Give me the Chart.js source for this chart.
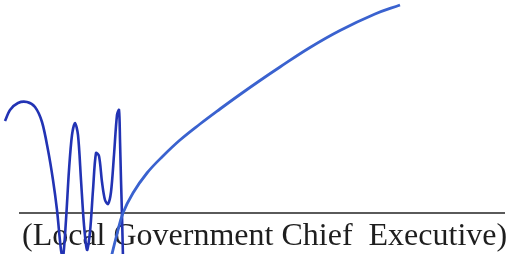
<!DOCTYPE html>
<html>
<head>
<meta charset="utf-8">
<script src="https://cdn.jsdelivr.net/npm/chart.js@4"></script>
<style>
  html, body { margin: 0; padding: 0; background: #fff; }
  #wrap { width: 507px; height: 254px; }
</style>
</head>
<body>
<div id="wrap"><canvas id="c" width="507" height="254"></canvas></div>
<script>
// Signature stroke 1 (the "W" part), in picture coordinates
const strokeWX = [5, 10, 18, 27, 35, 42, 48, 53, 57, 61, 63, 66, 69, 72, 75, 78, 81, 84, 87, 90, 93, 96, 99, 102, 105, 108, 111, 114, 117, 119, 120, 121, 122, 123];
const strokeWY = [121, 110, 103, 102, 107, 122, 150, 180, 210, 250, 258, 220, 170, 135, 123, 135, 180, 225, 250, 232, 190, 153, 156, 182, 200, 204, 192, 155, 115, 110, 140, 180, 215, 258];
// Signature stroke 2 (the long sweep)
const sweepX = [111, 117, 123, 133, 147, 163, 180, 200, 220, 240, 260, 280, 310, 340, 375, 400];
const sweepY = [258, 234, 213, 193, 173, 156, 140, 124, 109, 94.5, 80.5, 67, 47.5, 30.5, 14, 5];
// Signature rule line
const ruleX = [19, 505];
const ruleY = [213, 213];
const caption = "(Local Government Chief  Executive)";

const toPts = (xs, ys) => xs.map((x, i) => ({ x: x, y: ys[i] }));

const captionPlugin = {
  id: 'caption',
  beforeDatasetsDraw(chart) {
    const ctx = chart.ctx;
    ctx.save();
    ctx.font = '32px "Liberation Serif", "Times New Roman", serif';
    ctx.fillStyle = '#1e1e1e';
    ctx.textBaseline = 'alphabetic';
    ctx.textAlign = 'left';
    const xs = chart.scales.x, ys = chart.scales.y;
    ctx.fillText(caption, xs.getPixelForValue(22), ys.getPixelForValue(245));
    ctx.restore();
  }
};

new Chart(document.getElementById('c'), {
  type: 'scatter',
  data: {
    datasets: [
      { label: 'rule', data: toPts(ruleX, ruleY), showLine: true, borderColor: '#5a5a5a', borderWidth: 2, tension: 0, pointRadius: 0, clip: false, order: 3 },
      { label: 'W', data: toPts(strokeWX, strokeWY), showLine: true, borderColor: '#2233b4', borderWidth: 2.6, tension: 0.3, pointRadius: 0, clip: false, order: 2 },
      { label: 'sweep', data: toPts(sweepX, sweepY), showLine: true, borderColor: '#3a62cf', borderWidth: 2.8, tension: 0.4, pointRadius: 0, clip: false, order: 1 }
    ]
  },
  options: {
    responsive: false,
    animation: false,
    devicePixelRatio: 1,
    layout: { padding: 0 },
    plugins: { legend: { display: false }, tooltip: { enabled: false }, title: { display: false } },
    scales: {
      x: { type: 'linear', min: 0, max: 507, display: false },
      y: { type: 'linear', min: 0, max: 254, reverse: true, display: false }
    }
  },
  plugins: [captionPlugin]
});
</script>
</body>
</html>
